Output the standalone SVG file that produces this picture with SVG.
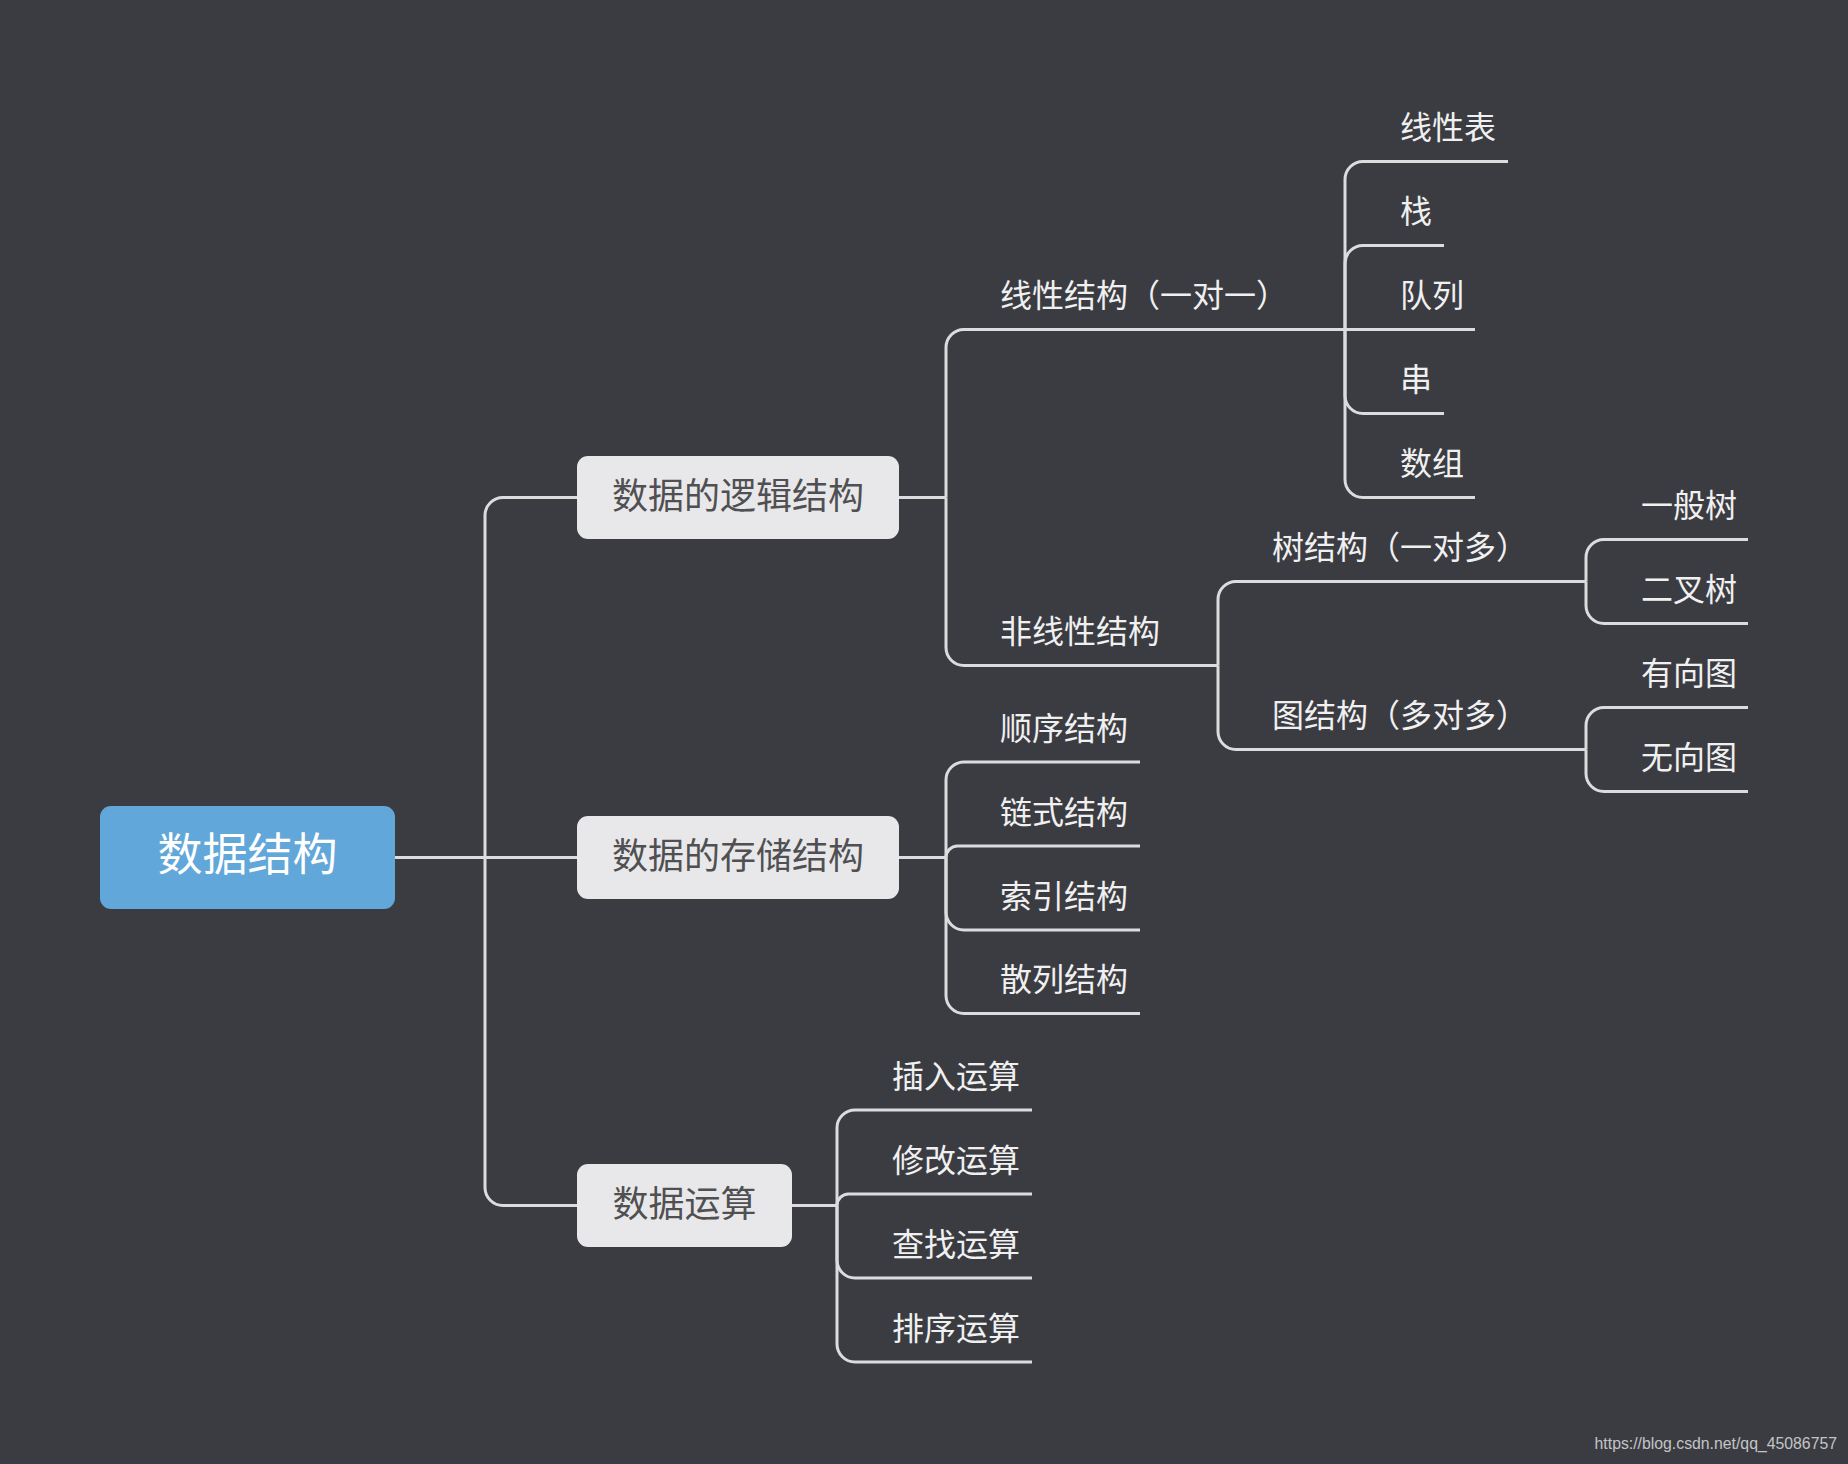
<svg xmlns="http://www.w3.org/2000/svg" width="1848" height="1464" viewBox="0 0 1848 1464">
<style>
.bg{fill:#3b3c42}
.c{fill:none;stroke:#dcdcde;stroke-width:3;stroke-linecap:butt}
.root{fill:#62a7d9}
.box{fill:#e8e8ea}
.rt{font-family:"Noto Sans CJK SC","Noto Sans",sans-serif;font-size:45px;fill:#ffffff;text-anchor:middle}
.bt{font-family:"Noto Sans CJK SC","Noto Sans",sans-serif;font-size:36px;fill:#505052;text-anchor:middle}
.lt{font-family:"Noto Sans CJK SC","Noto Sans",sans-serif;font-size:32px;fill:#f0f0f0}
.wm{font-family:"Liberation Sans",Arial,sans-serif;font-size:15.8px;fill:#c4c4c6;text-anchor:end}
</style>
<rect class="bg" x="0" y="0" width="1848" height="1464"/>
<g id="connectors">
<path class="c" d="M395 857.5 H577"/>
<path class="c" d="M485 857.5 V515.5 A18 18 0 0 1 503 497.5 H577"/>
<path class="c" d="M485 857.5 V1187.5 A18 18 0 0 0 503 1205.5 H577"/>
<path class="c" d="M899 497.5 H946"/>
<path class="c" d="M946 497.5 V347.5 A18 18 0 0 1 964 329.5 H1345"/>
<path class="c" d="M946 497.5 V647.5 A18 18 0 0 0 964 665.5 H1218"/>
<path class="c" d="M1345 329.5 V179.5 A18 18 0 0 1 1363 161.5 H1508"/>
<path class="c" d="M1345 329.5 V263.5 A18 18 0 0 1 1363 245.5 H1444"/>
<path class="c" d="M1345 329.5 H1475"/>
<path class="c" d="M1345 329.5 V395.5 A18 18 0 0 0 1363 413.5 H1444"/>
<path class="c" d="M1345 329.5 V479.5 A18 18 0 0 0 1363 497.5 H1475"/>
<path class="c" d="M1218 665.5 V599.5 A18 18 0 0 1 1236 581.5 H1586"/>
<path class="c" d="M1218 665.5 V731.5 A18 18 0 0 0 1236 749.5 H1586"/>
<path class="c" d="M1586 581.5 V557.5 A18 18 0 0 1 1604 539.5 H1748"/>
<path class="c" d="M1586 581.5 V605.5 A18 18 0 0 0 1604 623.5 H1748"/>
<path class="c" d="M1586 749.5 V725.5 A18 18 0 0 1 1604 707.5 H1748"/>
<path class="c" d="M1586 749.5 V773.5 A18 18 0 0 0 1604 791.5 H1748"/>
<path class="c" d="M899 857.5 H946"/>
<path class="c" d="M946 857.5 V780 A18 18 0 0 1 964 762 H1140"/>
<path class="c" d="M946 857.5 A11.5 11.5 0 0 1 957.5 846 H1140"/>
<path class="c" d="M946 857.5 V912 A18 18 0 0 0 964 930 H1140"/>
<path class="c" d="M946 857.5 V995.5 A18 18 0 0 0 964 1013.5 H1140"/>
<path class="c" d="M792 1205.5 H837"/>
<path class="c" d="M837 1205.5 V1128 A18 18 0 0 1 855 1110 H1032"/>
<path class="c" d="M837 1205.5 A11.5 11.5 0 0 1 848.5 1194 H1032"/>
<path class="c" d="M837 1205.5 V1260 A18 18 0 0 0 855 1278 H1032"/>
<path class="c" d="M837 1205.5 V1344 A18 18 0 0 0 855 1362 H1032"/>
</g>
<g id="root"><rect class="root" x="100" y="806" width="295" height="103" rx="11"/><text class="rt" x="247.5" y="871">数据结构</text></g>
<g id="logic"><rect class="box" x="577" y="456" width="322" height="83" rx="11"/><text class="bt" x="738" y="509">数据的逻辑结构</text></g>
<g id="storage"><rect class="box" x="577" y="816" width="322" height="83" rx="11"/><text class="bt" x="738" y="869">数据的存储结构</text></g>
<g id="ops"><rect class="box" x="577" y="1164" width="215" height="83" rx="11"/><text class="bt" x="684.5" y="1217">数据运算</text></g>
<g id="linear"><text class="lt" x="1000" y="307">线性结构（一对一）</text></g>
<g id="nonlinear"><text class="lt" x="1000" y="643">非线性结构</text></g>
<g id="l1"><text class="lt" x="1400" y="139">线性表</text></g>
<g id="l2"><text class="lt" x="1400" y="223">栈</text></g>
<g id="l3"><text class="lt" x="1400" y="307">队列</text></g>
<g id="l4"><text class="lt" x="1400" y="391">串</text></g>
<g id="l5"><text class="lt" x="1400" y="475">数组</text></g>
<g id="tree"><text class="lt" x="1272" y="559">树结构（一对多）</text></g>
<g id="graph"><text class="lt" x="1272" y="727">图结构（多对多）</text></g>
<g id="t1"><text class="lt" x="1641" y="517">一般树</text></g>
<g id="t2"><text class="lt" x="1641" y="601">二叉树</text></g>
<g id="g1"><text class="lt" x="1641" y="685">有向图</text></g>
<g id="g2"><text class="lt" x="1641" y="769">无向图</text></g>
<g id="s1"><text class="lt" x="1000" y="739.5">顺序结构</text></g>
<g id="s2"><text class="lt" x="1000" y="823.5">链式结构</text></g>
<g id="s3"><text class="lt" x="1000" y="907.5">索引结构</text></g>
<g id="s4"><text class="lt" x="1000" y="991">散列结构</text></g>
<g id="o1"><text class="lt" x="892" y="1087.5">插入运算</text></g>
<g id="o2"><text class="lt" x="892" y="1171.5">修改运算</text></g>
<g id="o3"><text class="lt" x="892" y="1255.5">查找运算</text></g>
<g id="o4"><text class="lt" x="892" y="1339.5">排序运算</text></g>
<text class="wm" x="1837" y="1449">https://blog.csdn.net/qq_45086757</text>
</svg>
